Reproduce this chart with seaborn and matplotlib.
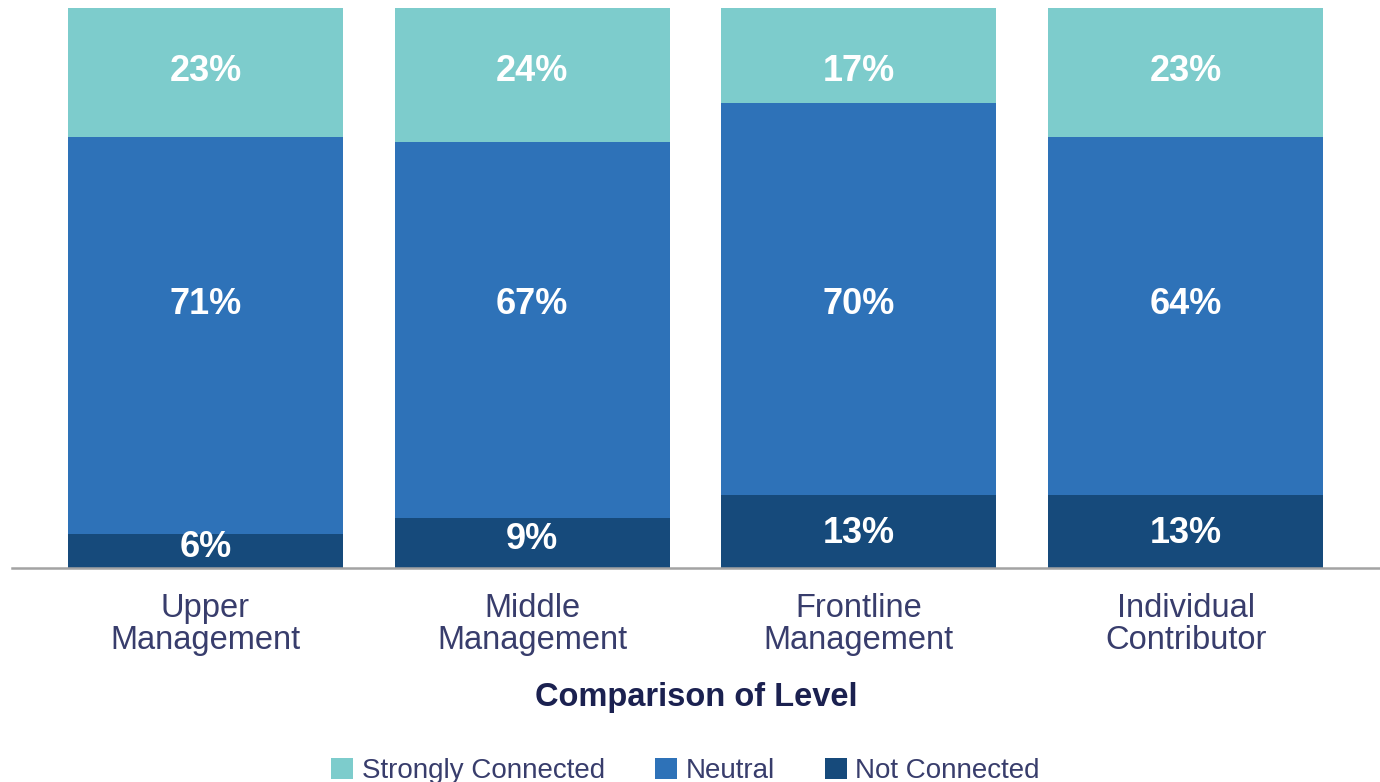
import matplotlib
matplotlib.use("Agg")
import matplotlib.pyplot as plt
from matplotlib.patches import Patch
import numpy as np
import pandas as pd
import seaborn as sns

# Survey results by level (percent of respondents)
levels = ["Upper\nManagement", "Middle\nManagement", "Frontline\nManagement", "Individual\nContributor"]
strongly_connected = [23, 24, 17, 23]
neutral = [71, 67, 70, 64]
not_connected = [6, 9, 13, 13]

series_names = ["Strongly Connected", "Neutral", "Not Connected"]
colors = {"Strongly Connected": "#7dcccc", "Neutral": "#2e72b8", "Not Connected": "#164a7b"}

sns.set_theme(style="white")
plt.rcParams["font.family"] = ["Liberation Sans", "DejaVu Sans"]

df = pd.DataFrame({
    "level": levels,
    "strong": strongly_connected,
    "neutral": neutral,
    "not": not_connected,
})
df["cum_not"] = df["not"]
df["cum_neutral"] = df["not"] + df["neutral"]
df["cum_strong"] = df["cum_neutral"] + df["strong"]

fig = plt.figure(figsize=(13.8, 7.82), dpi=100)
ax = fig.add_axes([12 / 1380, 1 - 568 / 782, 1 - 12 / 1380, (568 - 8) / 782])

bar_w = 0.842
for col, name in [("cum_strong", "Strongly Connected"),
                  ("cum_neutral", "Neutral"),
                  ("cum_not", "Not Connected")]:
    sns.barplot(data=df, x="level", y=col, color=colors[name], width=bar_w,
                saturation=1, ax=ax, linewidth=0, order=levels)

ax.set_ylim(0, 100)
ax.set_xlim(-0.592, 3.595)

label_kw = dict(ha="center", va="center_baseline", color="white", fontsize=26, fontweight="bold")
for i in range(len(levels)):
    ax.text(i, 89.3, f"{strongly_connected[i]}%", **label_kw)
    ax.text(i, 47.7, f"{neutral[i]}%", **label_kw)
    ax.text(i, min(not_connected[i] / 2 + 1.3, 6.9), f"{not_connected[i]}%", **label_kw)

for s in ["top", "right", "left"]:
    ax.spines[s].set_visible(False)
ax.spines["bottom"].set_color("#a3a3a3")
ax.spines["bottom"].set_linewidth(1.8)
ax.spines["bottom"].set_zorder(5)

ax.set_yticks([])
ax.set_ylabel("")
ax.tick_params(axis="x", length=0, pad=18, labelsize=23.5, labelcolor="#383d6c")
for t in ax.get_xticklabels():
    t.set_linespacing(1.05)
ax.set_xlabel("Comparison of Level", fontsize=23.5, fontweight="bold", color="#1b2150", labelpad=18.5)

handles = [Patch(facecolor=colors[n], edgecolor="none", label=n) for n in series_names]
fig.legend(handles=handles, loc="center", bbox_to_anchor=(685.5 / 1380, 1 - 771 / 782),
           ncol=3, frameon=False, fontsize=20, handlelength=0.8, handleheight=0.8,
           handletextpad=0.3, columnspacing=1.8, borderpad=0, labelcolor="#383d6c")

fig.savefig("out.png", dpi=100)
